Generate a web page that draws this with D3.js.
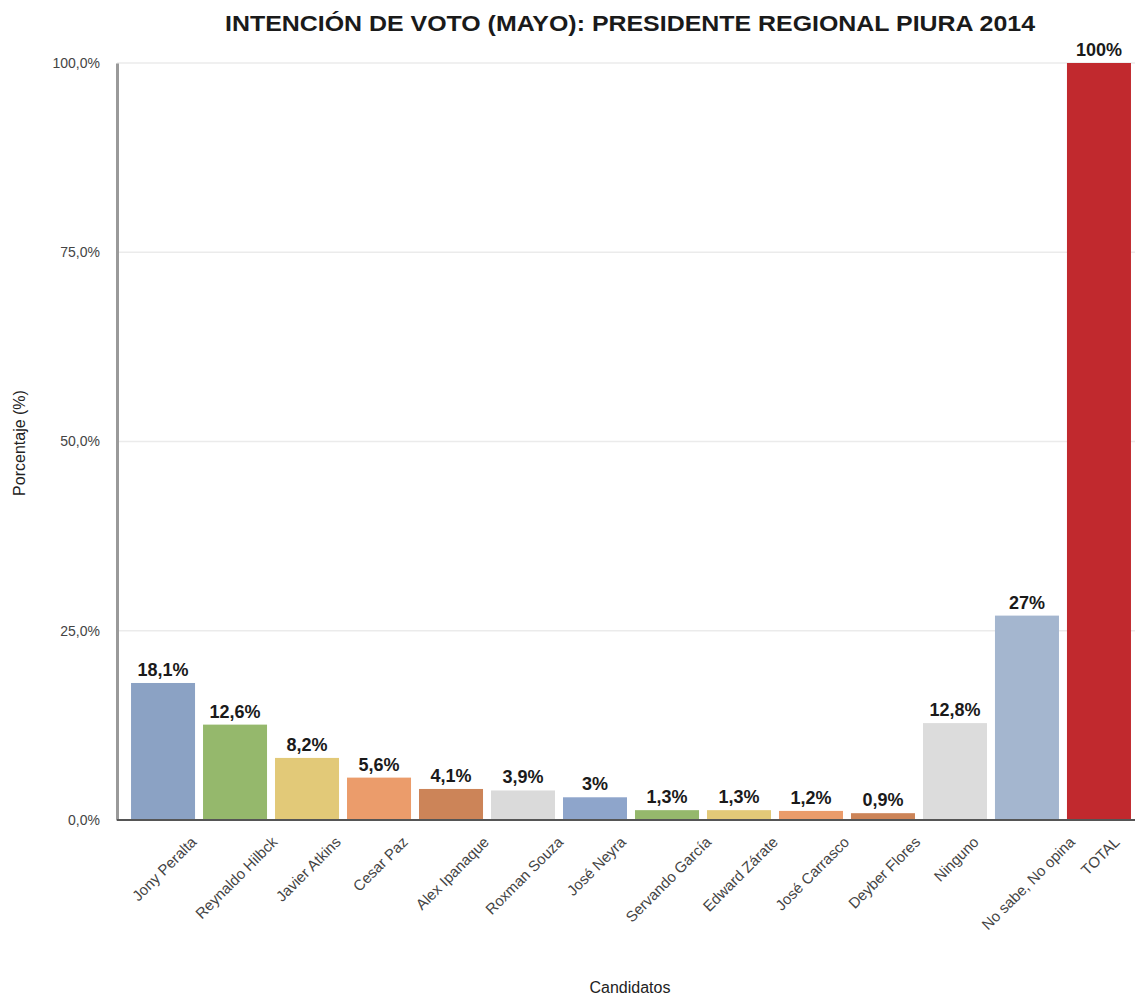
<!DOCTYPE html>
<html>
<head>
<meta charset="utf-8">
<script src="https://cdn.jsdelivr.net/npm/d3@7/dist/d3.min.js"></script>
<style>
  html, body { margin: 0; padding: 0; background: #fff; }
  svg { display: block; font-family: "Liberation Sans", Arial, Helvetica, sans-serif; }
</style>
</head>
<body>
<svg id="chart" width="1138" height="999"></svg>
<script>
const categories = ["Jony Peralta", "Reynaldo Hilbck", "Javier Atkins", "Cesar Paz", "Alex Ipanaque",
  "Roxman Souza", "José Neyra", "Servando García", "Edward Zárate", "José Carrasco",
  "Deyber Flores", "Ninguno", "No sabe, No opina", "TOTAL"];
const values = [18.1, 12.6, 8.2, 5.6, 4.1, 3.9, 3, 1.3, 1.3, 1.2, 0.9, 12.8, 27, 100];
const colors = ["#8ba2c4", "#95b86c", "#e2c978", "#eb9c6b", "#cc8458", "#dadada", "#8ea5cb",
  "#95b86c", "#e2c978", "#eb9c6b", "#cc8458", "#dcdcdc", "#a4b6cf", "#c1292e"];
const yTicks = [0, 25, 50, 75, 100];
const title = "INTENCIÓN DE VOTO (MAYO): PRESIDENTE REGIONAL PIURA 2014";
const xTitle = "Candidatos";
const yTitle = "Porcentaje (%)";

const svg = d3.select("#chart");
const plot = { left: 117, right: 1135, top: 63, bottom: 820 };

const x = d3.scaleBand().domain(categories).range([127, 1135]).paddingInner(0.111).paddingOuter(0.056);
const y = d3.scaleLinear().domain([0, 100]).range([plot.bottom, plot.top]);

const fmtTick = v => d3.format(".1f")(v).replace(".", ",") + "%";
const fmtVal = v => (Number.isInteger(v) ? String(v) : d3.format(".1f")(v).replace(".", ",")) + "%";

// gridlines
svg.append("g").selectAll("line").data(yTicks.filter(t => t > 0)).join("line")
  .attr("x1", plot.left).attr("x2", plot.right)
  .attr("y1", d => y(d)).attr("y2", d => y(d))
  .attr("stroke", "#ebebeb").attr("stroke-width", 1.5);

// y axis
const yAxis = svg.append("g").attr("transform", `translate(${plot.left},0)`)
  .call(d3.axisLeft(y).tickValues(yTicks).tickFormat(fmtTick).tickSize(0).tickPadding(17));
yAxis.select(".domain").attr("stroke", "#9a9a9a").attr("stroke-width", 3);
yAxis.selectAll("text").attr("font-size", 14).attr("fill", "#444")
  .attr("font-family", "Liberation Sans, Arial, sans-serif");

// bars
svg.append("g").selectAll("rect").data(values).join("rect")
  .attr("x", (d, i) => x(categories[i]))
  .attr("width", x.bandwidth())
  .attr("y", d => y(d))
  .attr("height", d => y(0) - y(d))
  .attr("fill", (d, i) => colors[i]);

// value labels
svg.append("g").selectAll("text").data(values).join("text")
  .attr("x", (d, i) => x(categories[i]) + x.bandwidth() / 2)
  .attr("y", d => y(d) - 7)
  .attr("text-anchor", "middle")
  .attr("font-weight", "bold")
  .attr("font-size", 18)
  .attr("fill", "#1a1a1a")
  .text(d => fmtVal(d));

// x axis
const xAxis = svg.append("g").attr("transform", `translate(0,${plot.bottom})`)
  .call(d3.axisBottom(x).tickSize(0).tickFormat(""));
xAxis.select(".domain").attr("d", `M${plot.left},0H${plot.right}`).attr("stroke", "#555").attr("stroke-width", 2);

// x labels rotated, centered on bar horizontally, end at fixed height
const xl = svg.append("g").selectAll("text").data(categories).join("text")
  .attr("text-anchor", "end")
  .attr("font-size", 15)
  .attr("fill", "#444")
  .text(d => d);
xl.each(function(d) {
  const L = this.getComputedTextLength();
  const cx = x(d) + x.bandwidth() / 2;
  d3.select(this).attr("transform", `translate(${cx + 5 + L * 0.3536},843) rotate(-45)`);
});

// title
svg.append("text")
  .attr("x", 630).attr("y", 31)
  .attr("text-anchor", "middle")
  .attr("font-weight", "bold")
  .attr("font-size", 22)
  .attr("fill", "#1a1a1a")
  .attr("textLength", 810)
  .attr("lengthAdjust", "spacingAndGlyphs")
  .text(title);

// axis titles
svg.append("text")
  .attr("x", 630).attr("y", 993)
  .attr("text-anchor", "middle")
  .attr("font-size", 16)
  .attr("fill", "#222")
  .text(xTitle);

svg.append("text")
  .attr("transform", "translate(25,443) rotate(-90)")
  .attr("text-anchor", "middle")
  .attr("font-size", 16)
  .attr("fill", "#222")
  .text(yTitle);
</script>
</body>
</html>
